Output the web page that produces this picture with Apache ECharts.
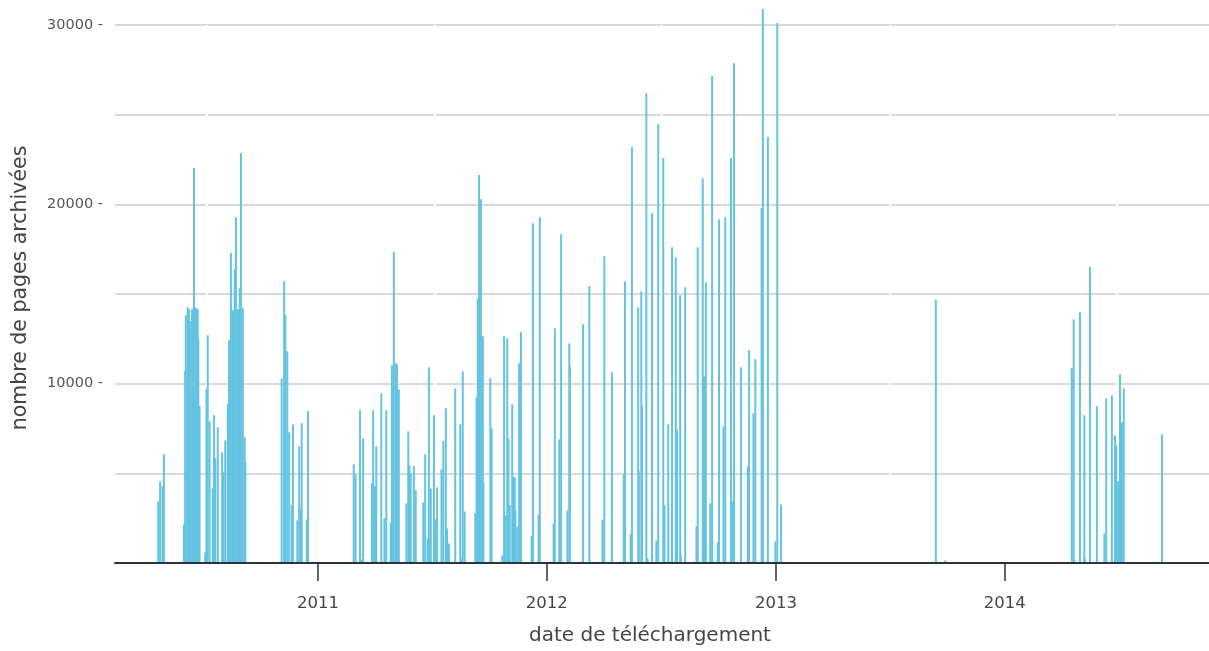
<!DOCTYPE html>
<html>
<head>
<meta charset="utf-8">
<script src="https://cdn.jsdelivr.net/npm/echarts@6/dist/echarts.min.js"></script>
<style>
html,body{margin:0;padding:0;background:#ffffff;}
#chart{width:1209px;height:651px;}
</style>
</head>
<body>
<div id="chart"></div>
<script>
// ---- data ----
const dates2010 = ['2010-04-21','2010-04-24','2010-04-28','2010-04-30',
  '2010-06-01','2010-06-03','2010-06-04','2010-06-07','2010-06-09','2010-06-11','2010-06-14','2010-06-17','2010-06-19','2010-06-21','2010-06-23','2010-06-24','2010-06-26',
  '2010-07-05','2010-07-07','2010-07-09','2010-07-12','2010-07-17','2010-07-19','2010-07-21','2010-07-25','2010-08-01','2010-08-03','2010-08-06',
  '2010-08-10','2010-08-12','2010-08-15','2010-08-18','2010-08-19','2010-08-21','2010-08-23','2010-08-26','2010-08-27','2010-08-29','2010-08-31','2010-09-03','2010-09-06','2010-09-07',
  '2010-11-04','2010-11-08','2010-11-10','2010-11-13','2010-11-16','2010-11-20','2010-11-22','2010-11-29','2010-12-02','2010-12-04','2010-12-06','2010-12-14','2010-12-16'];
const values2010 = [3440,4550,4280,6060,
  2150,10690,13820,14260,14150,13480,14150,22020,14260,14200,14150,12480,8740,
  590,9690,12700,7900,4160,8240,5840,7570,6170,5060,6840,
  8850,12420,17280,14100,13930,16380,19280,14150,14150,15320,22860,14200,7010,5620,
  10300,15710,13820,11810,7290,3220,7730,2380,6510,2990,7790,2430,8460];

const dates2011 = ['2011-02-27','2011-03-02','2011-03-09','2011-03-11','2011-03-14',
  '2011-03-28','2011-03-30','2011-04-02','2011-04-04','2011-04-12','2011-04-17','2011-04-20','2011-04-27','2011-04-29','2011-05-02','2011-05-05','2011-05-07','2011-05-10',
  '2011-05-22','2011-05-25','2011-05-27','2011-05-29','2011-06-01','2011-06-03','2011-06-06',
  '2011-06-18','2011-06-21','2011-06-25','2011-06-27','2011-06-30','2011-07-05','2011-07-08','2011-07-10','2011-07-17','2011-07-20','2011-07-24','2011-07-26','2011-07-29',
  '2011-08-08','2011-08-16','2011-08-18','2011-08-20','2011-08-23',
  '2011-09-09','2011-09-11','2011-09-13','2011-09-15','2011-09-18','2011-09-21','2011-09-22','2011-10-03','2011-10-05',
  '2011-10-22','2011-10-25','2011-10-27','2011-10-30','2011-11-01','2011-11-03','2011-11-07','2011-11-09','2011-11-11','2011-11-12','2011-11-15','2011-11-18','2011-11-21',
  '2011-12-08','2011-12-10','2011-12-19','2011-12-21'];
const values2011 = [5500,4940,8520,200,6950,
  4440,8520,4280,6510,9460,2490,8520,2270,11030,17350,11140,11080,9690,
  3330,7340,5450,5000,90,5390,4050,
  3380,6060,1370,10910,4160,8240,2430,4220,5220,6790,8630,1930,1090,
  9740,7730,250,10690,2880,
  2770,9240,14760,21630,20290,12640,4500,10300,7510,
  420,12640,2660,12530,6950,3220,8850,4780,4780,2940,2040,11140,12870,
  1490,18950,2710,19280];

const dates2012 = ['2012-01-12','2012-01-14','2012-01-21','2012-01-24','2012-02-03','2012-02-06','2012-02-07','2012-02-28','2012-03-09','2012-03-30','2012-04-02','2012-04-14',
  '2012-05-03','2012-05-05','2012-05-14','2012-05-16','2012-05-26','2012-05-27','2012-05-31','2012-06-01','2012-06-08','2012-06-10','2012-06-17','2012-06-24','2012-06-27',
  '2012-07-05','2012-07-07','2012-07-13','2012-07-17','2012-07-19','2012-07-25','2012-07-27','2012-08-01','2012-08-02','2012-08-09','2012-08-27','2012-08-29',
  '2012-09-06','2012-09-08','2012-09-11','2012-09-18','2012-09-21','2012-09-30','2012-10-02','2012-10-09','2012-10-12','2012-10-21','2012-10-24','2012-10-26',
  '2012-11-06','2012-11-17','2012-11-19','2012-11-26','2012-11-29','2012-12-09','2012-12-11','2012-12-19','2012-12-31'];
const values2012 = [2210,13090,6900,18330,2940,12250,10970,13310,15430,2430,17110,10640,
  4940,15710,1600,23200,14260,5110,15160,8740,26200,250,19500,1260,24470,
  22580,3220,7730,90,17600,17050,7460,14930,480,15380,2040,17600,
  21460,10410,15660,3330,27150,1150,19170,7620,19280,22580,3440,27870,
  10910,5390,11860,8350,11360,19800,30890,23750,1210];

const dates2013 = ['2013-01-03','2013-01-09','2013-09-13','2013-09-28'];
const values2013 = [30110,3270,14700,145];

const dates2014 = ['2014-04-18','2014-04-21','2014-04-22','2014-05-01','2014-05-08','2014-05-09','2014-05-17','2014-05-28',
  '2014-06-09','2014-06-12','2014-06-21','2014-06-26','2014-06-28','2014-07-01','2014-07-04','2014-07-07','2014-07-10','2014-09-09'];
const values2014 = [10860,13590,145,13980,8240,250,16500,8740,
  1650,9190,9350,7120,6560,4550,10520,7850,9740,7180];

const yearTicks = ['2011-01-01','2012-01-01','2013-01-01','2014-01-01'];
const midYearLines = ['2010-07-08','2011-07-06','2012-07-03','2013-07-02','2014-06-29'];
const xRange = ['2010-02-11','2014-11-23'];
const yMax = 30000;
const yStep = 10000;

const xTitle = 'date de téléchargement';
const yTitle = 'nombre de pages archivées';

// ---- build ----
function toTs(s){ const p = s.split('-').map(Number); return Date.UTC(p[0], p[1]-1, p[2]); }
const allDates = [].concat(dates2010, dates2011, dates2012, dates2013, dates2014);
const allValues = [].concat(values2010, values2011, values2012, values2013, values2014);
const seriesData = allDates.map((d, i) => [toTs(d), allValues[i]]);

const FONT = '"DejaVu Sans", Verdana, sans-serif';
const chart = echarts.init(document.getElementById('chart'), null, {renderer: 'canvas'});
chart.setOption({
  animation: false,
  backgroundColor: '#ffffff',
  grid: {left: 115, right: 0, top: 25, bottom: 87, containLabel: false},
  xAxis: {
    type: 'value',
    min: toTs(xRange[0]),
    max: toTs(xRange[1]),
    z: 3,
    name: xTitle,
    nameLocation: 'middle',
    nameGap: 63,
    nameTextStyle: {fontFamily: FONT, fontSize: 20, color: '#444444', padding: [0, 24, 0, 0]},
    axisLine: {show: true, onZero: false, lineStyle: {color: '#2b333b', width: 2}},
    axisTick: {show: true, length: 18, lineStyle: {color: '#2b333b', width: 1.5}, customValues: yearTicks.map(toTs)},
    axisLabel: {show: true, margin: 32, fontFamily: FONT, fontSize: 16.5, color: '#444444',
      customValues: yearTicks.map(toTs), formatter: v => String(new Date(v).getUTCFullYear())},
    splitLine: {show: false}
  },
  yAxis: {
    type: 'value',
    min: 0,
    max: yMax,
    interval: yStep,
    name: yTitle,
    nameLocation: 'middle',
    nameGap: 84,
    nameTextStyle: {fontFamily: FONT, fontSize: 20.5, color: '#444444', padding: [0, 0, 0, 12]},
    axisLine: {show: false},
    axisTick: {show: false},
    axisLabel: {margin: 12, fontFamily: FONT, fontSize: 14.5, color: '#555555',
      formatter: v => v === 0 ? '' : v + ' -'},
    splitLine: {show: true, lineStyle: {color: '#cdcdcd', width: 1.5}},
    minorTick: {show: false, splitNumber: 2},
    minorSplitLine: {show: true, lineStyle: {color: '#cdcdcd', width: 1.5}}
  },
  series: [{
    type: 'bar',
    data: seriesData,
    barWidth: 2,
    clip: false,
    z: 2,
    itemStyle: {color: '#63c3e0'},
    markLine: {
      z: 1,
      silent: true,
      symbol: 'none',
      label: {show: false},
      lineStyle: {color: '#ffffff', width: 2, type: 'solid'},
      data: midYearLines.map(d => ({xAxis: toTs(d)}))
    }
  }]
});
</script>
</body>
</html>
